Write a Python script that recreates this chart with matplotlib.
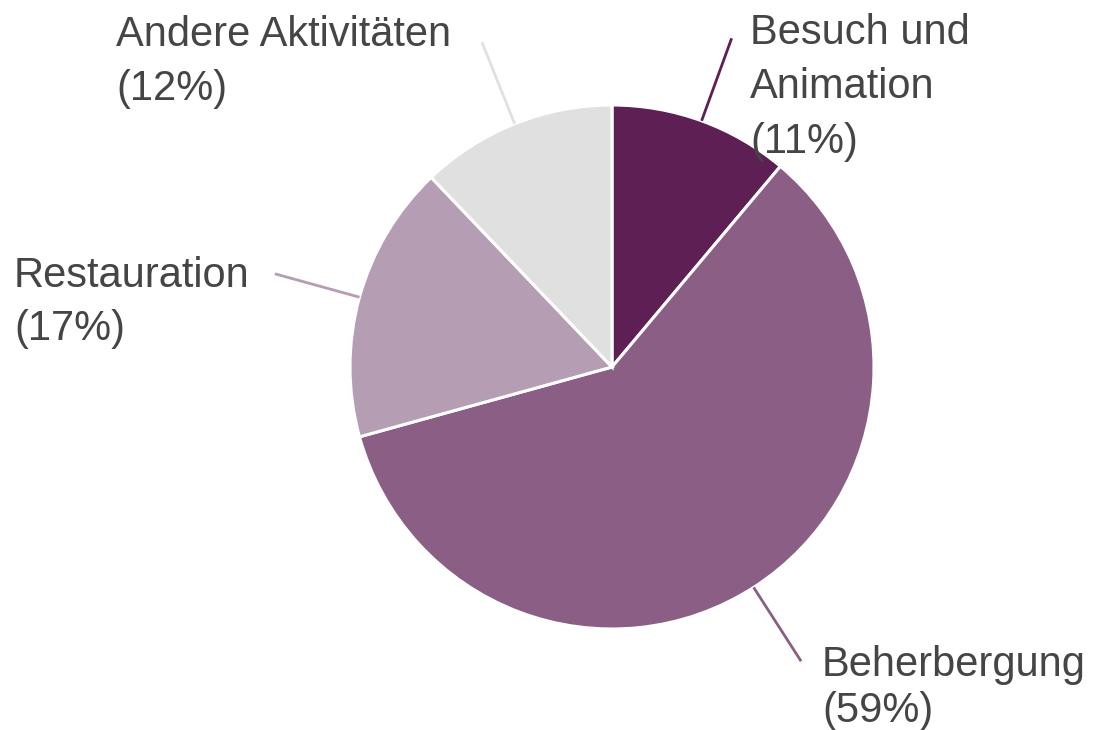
import numpy as np
import matplotlib.pyplot as plt

# Anteile (im Uhrzeigersinn ab 12 Uhr)
labels = ['Besuch und\nAnimation', 'Beherbergung', 'Restauration', 'Andere Aktivitäten']
values = [11, 59, 17, 12]
colors = ['#5e1f54', '#8a5e85', '#b59db3', '#e0e0e0']

W, H = 1097, 730
cx, cy, r = 612, H - 367, 262

fig = plt.figure(figsize=(W / 100, H / 100), dpi=100)
ax = fig.add_axes([0, 0, 1, 1])

wedges, _ = ax.pie(values, colors=colors, startangle=90, counterclock=False,
                   center=(cx, cy), radius=r, frame=True,
                   wedgeprops=dict(edgecolor='white', linewidth=2.2))
ax.set_xlim(0, W)
ax.set_ylim(0, H)
ax.set_aspect('equal')
ax.axis('off')

# Beschriftungspositionen (links oben der Textblöcke, Pixel) und Zeilenabstand
text_pos = [(750, 13), (822, 645), (14, 256), (116, 15)]
spacing = [1.46, 1.18, 1.42, 1.46]

for w, lab, v, c, (tx, ty), ls in zip(wedges, labels, values, colors, text_pos, spacing):
    mid = np.deg2rad((w.theta1 + w.theta2) / 2)
    x0, y0 = cx + r * np.cos(mid), cy + r * np.sin(mid)
    x1, y1 = cx + 1.335 * r * np.cos(mid), cy + 1.335 * r * np.sin(mid)
    ax.plot([x0, x1], [y0, y1], color=c, lw=2, solid_capstyle='butt')
    ax.text(tx, H - ty, f'{lab}\n({v}%)', ha='left', va='top',
            fontsize=30, family='Liberation Sans', color='#454545',
            linespacing=ls)

fig.savefig('out.png', dpi=100)
